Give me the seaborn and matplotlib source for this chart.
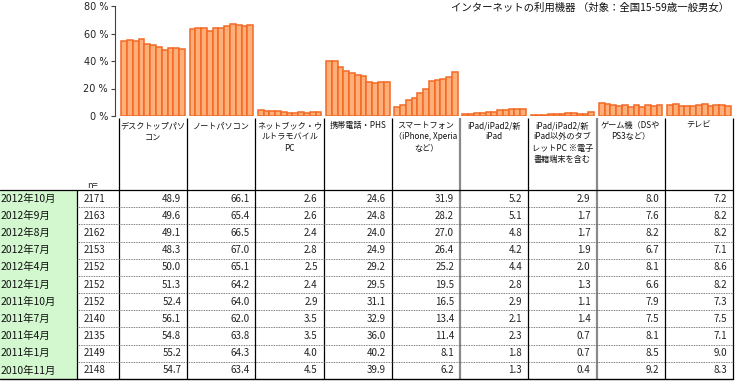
import numpy as np
import pandas as pd
import matplotlib
matplotlib.use("Agg")
import matplotlib.pyplot as plt
import seaborn as sns

# ---------------- data ----------------
periods = ["2012年10月", "2012年9月", "2012年8月", "2012年7月", "2012年4月", "2012年1月",
           "2011年10月", "2011年7月", "2011年4月", "2011年1月", "2010年11月"]
n_values = [2171, 2163, 2162, 2153, 2152, 2152, 2152, 2140, 2135, 2149, 2148]

categories = ["デスクトップパソ\nコン",
              "ノートパソコン",
              "ネットブック・ウ\nルトラモバイル\nPC",
              "携帯電話・PHS",
              "スマートフォン\n（iPhone, Xperia\nなど）",
              "iPad/iPad2/新\niPad",
              "iPad/iPad2/新\niPad以外のタブ\nレットPC ※電子\n書籍端末を含む",
              "ゲーム機（DSや\nPS3など）",
              "テレビ"]

desktop = [48.9, 49.6, 49.1, 48.3, 50.0, 51.3, 52.4, 56.1, 54.8, 55.2, 54.7]
notebook = [66.1, 65.4, 66.5, 67.0, 65.1, 64.2, 64.0, 62.0, 63.8, 64.3, 63.4]
netbook = [2.6, 2.6, 2.4, 2.8, 2.5, 2.4, 2.9, 3.5, 3.5, 4.0, 4.5]
mobile = [24.6, 24.8, 24.0, 24.9, 29.2, 29.5, 31.1, 32.9, 36.0, 40.2, 39.9]
smartphone = [31.9, 28.2, 27.0, 26.4, 25.2, 19.5, 16.5, 13.4, 11.4, 8.1, 6.2]
ipad = [5.2, 5.1, 4.8, 4.2, 4.4, 2.8, 2.9, 2.1, 2.3, 1.8, 1.3]
tablet = [2.9, 1.7, 1.7, 1.9, 2.0, 1.3, 1.1, 1.4, 0.7, 0.7, 0.4]
game = [8.0, 7.6, 8.2, 6.7, 8.1, 6.6, 7.9, 7.5, 8.1, 8.5, 9.2]
tv = [7.2, 8.2, 8.2, 7.1, 8.6, 8.2, 7.3, 7.5, 7.1, 9.0, 8.3]

series = [desktop, notebook, netbook, mobile, smartphone, ipad, tablet, game, tv]

title = "インターネットの利用機器 （対象：全国15-59歳一般男女）"
yticks = [0, 20, 40, 60, 80]

# ---------------- style ----------------
sns.set_theme(style="white")
plt.rcParams['font.family'] = ['Noto Sans CJK JP', 'DejaVu Sans']

W, H = 736, 381
fig = plt.figure(figsize=(W / 100, H / 100), dpi=100)

# overlay axes in pixel coordinates for the table
tab = fig.add_axes([0, 0, 1, 1])
tab.set_xlim(0, W)
tab.set_ylim(H, 0)
tab.axis("off")

col_left = 119.0
col_right = 733.0
ncol = len(categories)
col_w = (col_right - col_left) / ncol
axis_x = 115.0
y0_px, y80_px = 116.0, 6.0

# bar axes
ax = fig.add_axes([axis_x / W, (H - y0_px) / H, (col_right - axis_x) / W, (y0_px - y80_px) / H])
ax.patch.set_alpha(0)

rows = []
for cat, vals in zip(categories, series):
    for p, v in zip(periods, vals):
        rows.append({"cat": cat, "period": p, "value": v})
df = pd.DataFrame(rows)

light = "#FFB07A"
dark = "#F36A25"
sns.barplot(data=df, x="cat", y="value", hue="period", order=categories,
            hue_order=periods[::-1], palette=[light] * len(periods),
            edgecolor=dark, linewidth=1.1, width=0.93, saturation=1,
            errorbar=None, legend=False, ax=ax)
ax.set_xlim(-0.5 - (col_left - axis_x) / col_w, ncol - 0.5)
ax.set_ylim(0, 80)
ax.set_yticks(yticks)
ax.set_yticklabels([f"{t} %" for t in yticks], fontsize=7, family=['DejaVu Sans'])
ax.set_xticks([])
ax.set_xlabel("")
ax.set_ylabel("")
for s in ["top", "right", "bottom"]:
    ax.spines[s].set_visible(False)
ax.spines["left"].set_color("#444444")
ax.spines["left"].set_linewidth(0.8)
ax.tick_params(axis="y", direction="out", length=3, width=0.8, color="#444444", pad=2,
               left=True, labelcolor="#222222")

# title
tab.text(729, 8, title, ha="right", va="center", fontsize=7.5, color="#111111")

# table geometry
top_y = 190.0
bot_y = 379.0
nrows = len(periods)
row_h = (bot_y - top_y) / nrows
label_right = 77.0

# green label column
tab.add_patch(plt.Rectangle((0, top_y), label_right, bot_y - top_y,
                            facecolor="#D3F8CF", edgecolor="none", zorder=0))

# header text
for i, cat in enumerate(categories):
    cx = col_left + col_w * (i + 0.5)
    tab.text(cx, 121, cat, ha="center", va="top", fontsize=5.9,
             multialignment="center", linespacing=1.35, color="#111111")
tab.text(92, 185, "n=", ha="center", va="center", fontsize=6.5, color="#222222")

# vertical lines
for i in range(ncol + 1):
    x = col_left + col_w * i
    if i in (5, 7):
        tab.plot([x, x], [118, bot_y], color="#8A8A8A", lw=1.6, solid_capstyle="butt")
    else:
        tab.plot([x, x], [118, bot_y], color="black", lw=0.9, solid_capstyle="butt")
tab.plot([label_right, label_right], [top_y, bot_y], color="black", lw=0.9)

# horizontal lines
tab.plot([0, col_right], [top_y, top_y], color="black", lw=0.9)
tab.plot([0, col_right], [bot_y, bot_y], color="black", lw=1.0)
for k in range(1, nrows):
    y = top_y + row_h * k
    tab.plot([label_right, col_right], [y, y], color="#555555", lw=0.6, ls=(0, (1, 1)))

# table cells
for k, (p, nv) in enumerate(zip(periods, n_values)):
    yc = top_y + row_h * (k + 0.5)
    tab.text(1, yc, p, ha="left", va="center", fontsize=7.5, color="#111111")
    tab.text(84, yc, f"{nv}", ha="left", va="center", fontsize=7, color="#222222")
    for i, vals in enumerate(series):
        xr = col_left + col_w * (i + 1) - 6
        tab.text(xr, yc, f"{vals[k]:.1f}", ha="right", va="center", fontsize=7, color="#222222")

fig.savefig("out.png", dpi=100)
